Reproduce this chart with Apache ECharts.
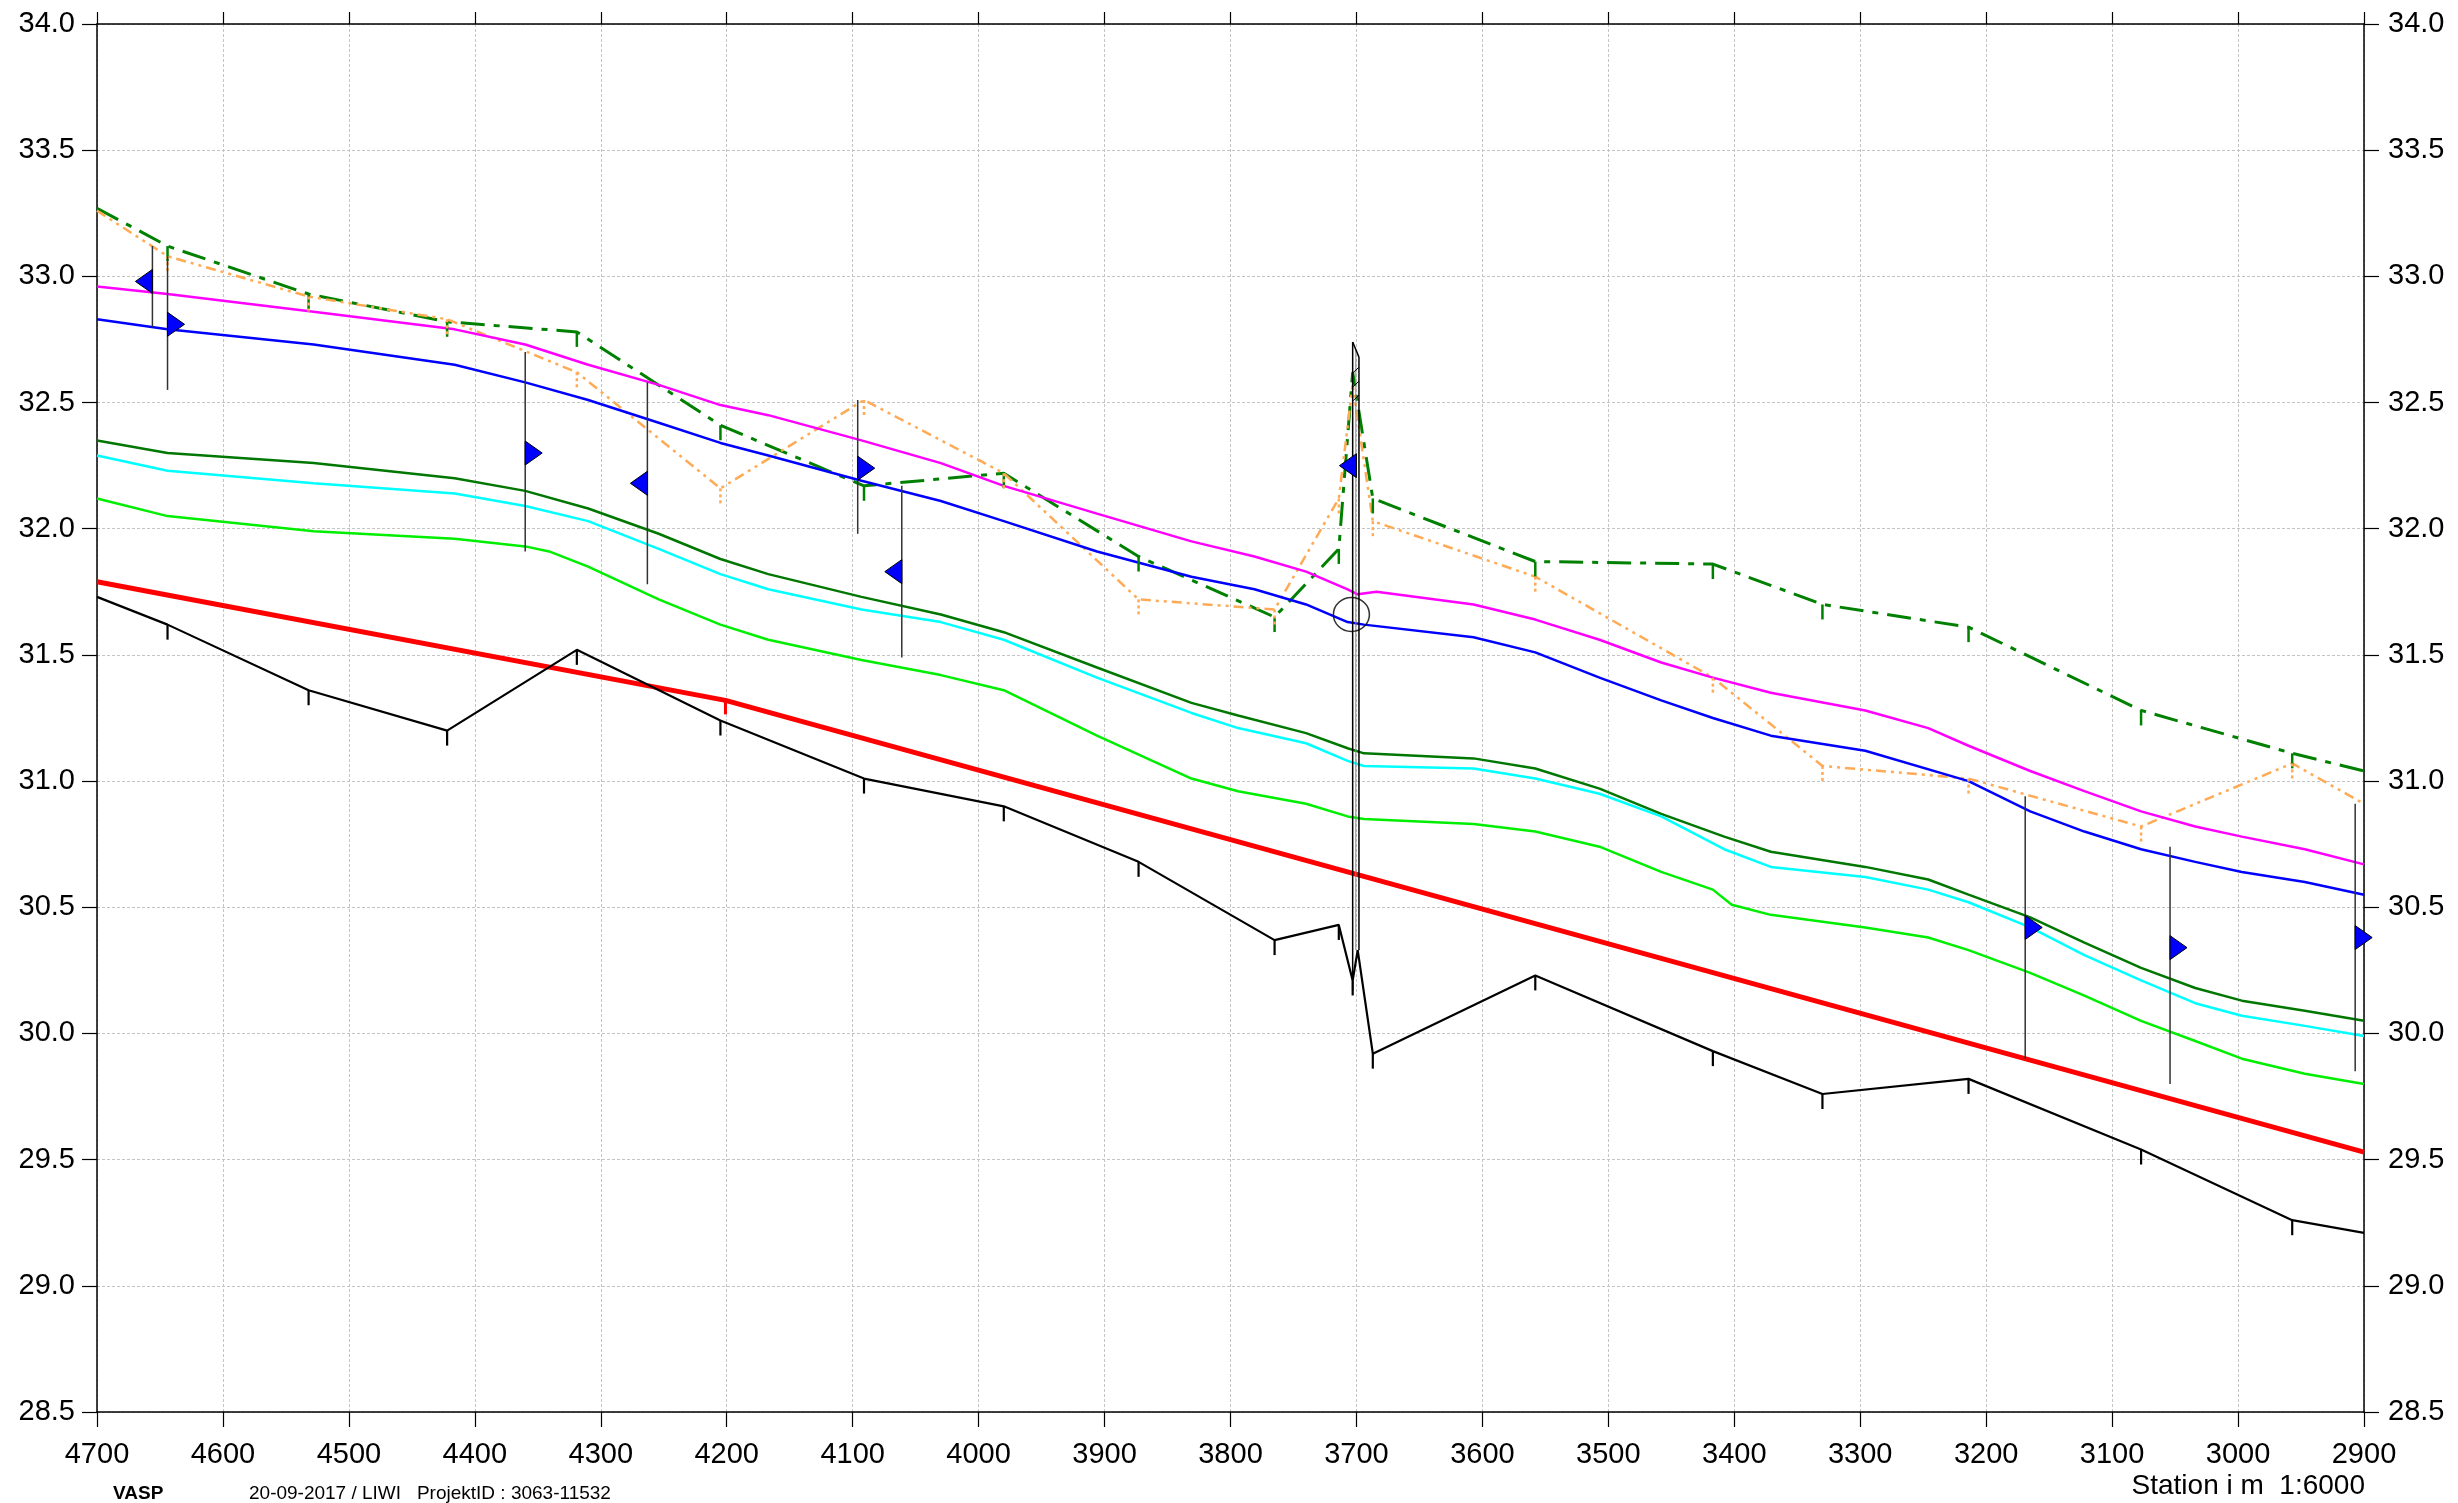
<!DOCTYPE html>
<html><head><meta charset="utf-8">
<script src="https://cdn.jsdelivr.net/npm/echarts@6/dist/echarts.min.js"></script>
<style>html,body{margin:0;padding:0;background:#fff}#c{width:2458px;height:1503px}</style>
</head><body><div id="c"></div>
<script>
// ---------- data (station [m], elevation [m]) ----------
const bed = [[4700,31.73],[4644,31.62],[4532,31.36],[4422,31.20],[4319,31.52],[4205,31.24],[4091,31.01],[3980,30.90],[3873,30.68],[3765,30.37],[3714,30.43],[3703,30.21],[3699,30.33],[3687,29.92],[3558,30.23],[3417,29.93],[3330,29.76],[3214,29.82],[3077,29.54],[2957,29.26],[2900,29.21]];
const bedTicks = [4644,4532,4422,4319,4205,4091,3980,3873,3765,3714,3703,3687,3558,3417,3330,3214,3077,2957];

const designBed = [[4700,31.79],[4201,31.32],[2900,29.53]];
const designTicks = [4201];

const wlLow = [[4700,32.12],[4644,32.05],[4528,31.99],[4416,31.96],[4360,31.93],[4341,31.91],[4310,31.85],[4254,31.72],[4205,31.62],[4167,31.56],[4093,31.48],[4030,31.42],[3980,31.36],[3906,31.18],[3831,31.01],[3794,30.96],[3740,30.91],[3707,30.86],[3694,30.85],[3607,30.83],[3558,30.80],[3507,30.74],[3458,30.64],[3417,30.57],[3402,30.51],[3371,30.47],[3296,30.42],[3246,30.38],[3214,30.33],[3165,30.24],[3122,30.15],[3077,30.05],[3034,29.97],[2997,29.90],[2947,29.84],[2900,29.80]];
const wlCyan = [[4700,32.29],[4644,32.23],[4528,32.18],[4416,32.14],[4360,32.09],[4310,32.03],[4254,31.92],[4205,31.82],[4167,31.76],[4093,31.68],[4030,31.63],[3980,31.56],[3906,31.41],[3831,31.27],[3794,31.21],[3740,31.15],[3707,31.08],[3694,31.06],[3607,31.05],[3558,31.01],[3507,30.95],[3458,30.86],[3408,30.73],[3371,30.66],[3296,30.62],[3246,30.57],[3214,30.52],[3165,30.42],[3122,30.31],[3077,30.21],[3034,30.12],[2997,30.07],[2947,30.03],[2900,29.99]];
const wlMid = [[4700,32.35],[4644,32.30],[4528,32.26],[4416,32.20],[4360,32.15],[4310,32.08],[4254,31.98],[4205,31.88],[4167,31.82],[4093,31.73],[4030,31.66],[3980,31.59],[3906,31.45],[3831,31.31],[3794,31.26],[3740,31.19],[3707,31.13],[3694,31.11],[3607,31.09],[3558,31.05],[3507,30.97],[3458,30.87],[3408,30.78],[3371,30.72],[3296,30.66],[3246,30.61],[3214,30.55],[3165,30.46],[3122,30.36],[3077,30.26],[3034,30.18],[2997,30.13],[2947,30.09],[2900,30.05]];
const wlBlue = [[4700,32.83],[4644,32.79],[4528,32.73],[4416,32.65],[4360,32.58],[4310,32.51],[4254,32.42],[4205,32.34],[4167,32.29],[4093,32.19],[4030,32.11],[3980,32.03],[3906,31.91],[3831,31.81],[3781,31.76],[3740,31.70],[3707,31.63],[3694,31.62],[3607,31.57],[3558,31.51],[3507,31.41],[3458,31.32],[3417,31.25],[3371,31.18],[3296,31.12],[3214,31.00],[3165,30.88],[3122,30.80],[3077,30.73],[3034,30.68],[2997,30.64],[2947,30.60],[2900,30.55]];
const wlMagenta = [[4700,32.96],[4644,32.93],[4528,32.86],[4416,32.79],[4360,32.73],[4310,32.65],[4254,32.57],[4205,32.49],[4167,32.45],[4093,32.35],[4030,32.26],[3980,32.17],[3906,32.06],[3831,31.95],[3781,31.89],[3740,31.83],[3707,31.76],[3699,31.74],[3684,31.75],[3607,31.70],[3558,31.64],[3507,31.56],[3458,31.47],[3417,31.41],[3371,31.35],[3296,31.28],[3246,31.21],[3214,31.14],[3165,31.04],[3122,30.96],[3077,30.88],[3034,30.82],[2997,30.78],[2947,30.73],[2900,30.67]];

const bankLeft = [[4700,33.27],[4644,33.12],[4532,32.93],[4422,32.82],[4319,32.78],[4205,32.41],[4091,32.17],[3980,32.22],[3873,31.89],[3765,31.65],[3714,31.92],[3703,32.62],[3687,32.12],[3558,31.87],[3417,31.86],[3330,31.70],[3214,31.61],[3077,31.28],[2957,31.11],[2900,31.04]];
const bankLeftTicks = [4644,4532,4422,4319,4205,4091,3980,3873,3765,3714,3687,3558,3417,3330,3214,3077,2957];
const bankRight = [[4700,33.26],[4644,33.08],[4532,32.92],[4422,32.83],[4319,32.62],[4205,32.16],[4091,32.51],[3980,32.22],[3873,31.72],[3765,31.68],[3714,32.12],[3703,32.57],[3687,32.03],[3558,31.81],[3417,31.41],[3330,31.06],[3214,31.01],[3077,30.82],[2957,31.07],[2900,30.91]];
const bankRightTicks = [4644,4532,4422,4319,4205,4091,3980,3873,3765,3714,3687,3558,3417,3330,3214,3077,2957];

// gauges: station, marker elevation, line top, line bottom, direction (1 right, -1 left)
const gauges = [[4656,32.98,33.12,32.80,-1],[4644,32.81,33.08,32.55,1],[4360,32.30,32.70,31.91,1],[4263,32.18,32.58,31.78,-1],[4096,32.24,32.51,31.98,1],[4061,31.83,32.17,31.49,-1],[3700,32.25,32.25,32.25,-1],[3169,30.42,30.94,29.90,1],[3054,30.34,30.74,29.80,1],[2907,30.38,30.91,29.85,1]];
// structure: left station, right station, top left, top right, bottom left, bottom right, hatch bottom
const structure = [[3703,3698,32.74,32.68,30.17,30.33,32.50]];
const circleMark = [[3704,31.66]];

const footerLeft1 = 'VASP';
const footerLeft2 = '20-09-2017 / LIWI   ProjektID : 3063-11532';
const axisTitle = 'Station i m  1:6000';

// ---------- helpers ----------
function ticksFrom(arr, stations){ return stations.map(s => { const p = arr.find(q => q[0] === s); return [s, p[1]]; }); }
function tickSeries(pts, color, width, len, dash){
  return {type:'custom', data:pts, encode:{x:0,y:1}, z:4, silent:true,
    renderItem:function(params, api){
      const p = api.coord([api.value(0), api.value(1)]);
      return {type:'line', shape:{x1:p[0],y1:p[1],x2:p[0],y2:p[1]+len}, style:{stroke:color,lineWidth:width,lineDash:dash||null}};
    }};
}
function lineSeries(data, color, width, type, z){
  return {type:'line', data:data, showSymbol:false, symbol:'none', z:z||3, silent:true,
    lineStyle:{color:color, width:width, type:type||'solid'}};
}

const FONT = 'Liberation Sans, Arial, Helvetica, sans-serif';
const chart = echarts.init(document.getElementById('c'), null, {renderer:'canvas'});
const gridLine = {show:true, lineStyle:{color:'#c4c4c4', width:1, type:[3,2]}};

chart.setOption({
  animation:false,
  backgroundColor:'#fff',
  grid:{left:97, right:94, top:24, bottom:91, containLabel:false},
  xAxis:[
    {type:'value', min:2900, max:4700, interval:100, inverse:true, position:'bottom',
     axisLine:{show:true, onZero:false, lineStyle:{color:'#000', width:1.5}},
     axisTick:{show:true, inside:false, length:15, lineStyle:{color:'#000', width:1.2}},
     axisLabel:{margin:28, fontSize:29, color:'#000', fontFamily:FONT, formatter:v=>String(v)},
     splitLine:gridLine},
    {type:'value', min:2900, max:4700, interval:100, inverse:true, position:'top',
     axisLine:{show:true, onZero:false, lineStyle:{color:'#000', width:1.5}},
     axisTick:{show:true, inside:false, length:12, lineStyle:{color:'#000', width:1.2}},
     axisLabel:{show:false}, splitLine:{show:false}}
  ],
  yAxis:[
    {type:'value', min:28.5, max:34, interval:0.5, position:'left',
     axisLine:{show:true, onZero:false, lineStyle:{color:'#000', width:1.5}},
     axisTick:{show:true, inside:false, length:15, lineStyle:{color:'#000', width:1.2}},
     axisLabel:{margin:22, fontSize:29, color:'#000', fontFamily:FONT, formatter:v=>v.toFixed(1)},
     splitLine:gridLine},
    {type:'value', min:28.5, max:34, interval:0.5, position:'right',
     axisLine:{show:true, onZero:false, lineStyle:{color:'#000', width:1.5}},
     axisTick:{show:true, inside:false, length:15, lineStyle:{color:'#000', width:1.2}},
     axisLabel:{margin:24, fontSize:29, color:'#000', fontFamily:FONT, formatter:v=>v.toFixed(1)},
     splitLine:{show:false}}
  ],
  graphic:[
    {type:'text', left:113, top:1484, style:{text:footerLeft1, font:'bold 19px '+FONT, fill:'#000'}},
    {type:'text', left:249, top:1484, style:{text:footerLeft2, font:'19px '+FONT, fill:'#000'}},
    {type:'text', right:93, top:1472, style:{text:axisTitle, font:'28px '+FONT, fill:'#000', textAlign:'right'}}
  ],
  series:[
    lineSeries(bankLeft, '#008000', 3, [24,9,6,9], 3),
    lineSeries(bankRight, '#ffaa55', 2.5, [10,5,3,5,3,5], 3),
    tickSeries(ticksFrom(bankLeft, bankLeftTicks), '#008000', 2.5, 15),
    tickSeries(ticksFrom(bankRight, bankRightTicks), '#ffaa55', 2.5, 15, [3,3]),
    lineSeries(wlMagenta, '#ff00ff', 2.5),
    lineSeries(wlBlue, '#0000ff', 2.5),
    lineSeries(wlMid, '#007700', 2.5),
    lineSeries(wlCyan, '#00ffff', 2.5),
    lineSeries(wlLow, '#00ee00', 2.5),
    lineSeries(designBed, '#ff0000', 5, 'solid', 4),
    tickSeries(ticksFrom(designBed, designTicks), '#ff0000', 3, 14),
    lineSeries(bed, '#000000', 2.2, 'solid', 4),
    tickSeries(ticksFrom(bed, bedTicks), '#000000', 2.2, 15),
    {type:'custom', data:structure, z:6, silent:true, encode:{x:0,y:2},
     renderItem:function(params, api){
       const L = api.value(0), R = api.value(1);
       const tl = api.coord([L, api.value(2)]), tr = api.coord([R, api.value(3)]);
       const bl = api.coord([L, api.value(4)]), br = api.coord([R, api.value(5)]);
       const hb = api.coord([R, api.value(6)]);
       const ch = [
         {type:'line', shape:{x1:tl[0],y1:tl[1],x2:bl[0],y2:bl[1]}, style:{stroke:'#000',lineWidth:1.5}},
         {type:'line', shape:{x1:tr[0],y1:tr[1],x2:br[0],y2:br[1]}, style:{stroke:'#000',lineWidth:1.5}},
         {type:'line', shape:{x1:(tl[0]+tr[0])/2,y1:tl[1]+8,x2:(bl[0]+br[0])/2,y2:br[1]}, style:{stroke:'#888',lineWidth:1}},
         {type:'line', shape:{x1:tl[0],y1:tl[1],x2:tr[0],y2:tr[1]}, style:{stroke:'#000',lineWidth:1.5}}
       ];
       for (let y = tr[1] + 10; y < hb[1]; y += 14) {
         ch.push({type:'line', shape:{x1:tl[0],y1:y+6,x2:tr[0],y2:y}, style:{stroke:'#000',lineWidth:1}});
       }
       return {type:'group', children:ch};
     }},
    {type:'custom', data:gauges, z:7, silent:true, encode:{x:0,y:1},
     renderItem:function(params, api){
       const s = api.value(0);
       const pt = api.coord([s, api.value(1)]);
       const top = api.coord([s, api.value(2)]), bot = api.coord([s, api.value(3)]);
       const dir = api.value(4);
       const w = 17, h = 12;
       const ch = [];
       if (api.value(2) !== api.value(3)) ch.push({type:'line', shape:{x1:top[0],y1:top[1],x2:bot[0],y2:bot[1]}, style:{stroke:'#333',lineWidth:1.5}});
       ch.push({type:'polygon', shape:{points:[[pt[0],pt[1]-h],[pt[0]+dir*w,pt[1]],[pt[0],pt[1]+h]]}, style:{fill:'#0000ff',stroke:'#000',lineWidth:1}});
       return {type:'group', children:ch};
     }},
    {type:'scatter', data:circleMark, symbol:'circle', symbolSize:[36,34], z:8, silent:true,
     itemStyle:{color:'rgba(0,0,0,0)', borderColor:'#000', borderWidth:1.5}}
  ]
});
</script>
</body></html>
